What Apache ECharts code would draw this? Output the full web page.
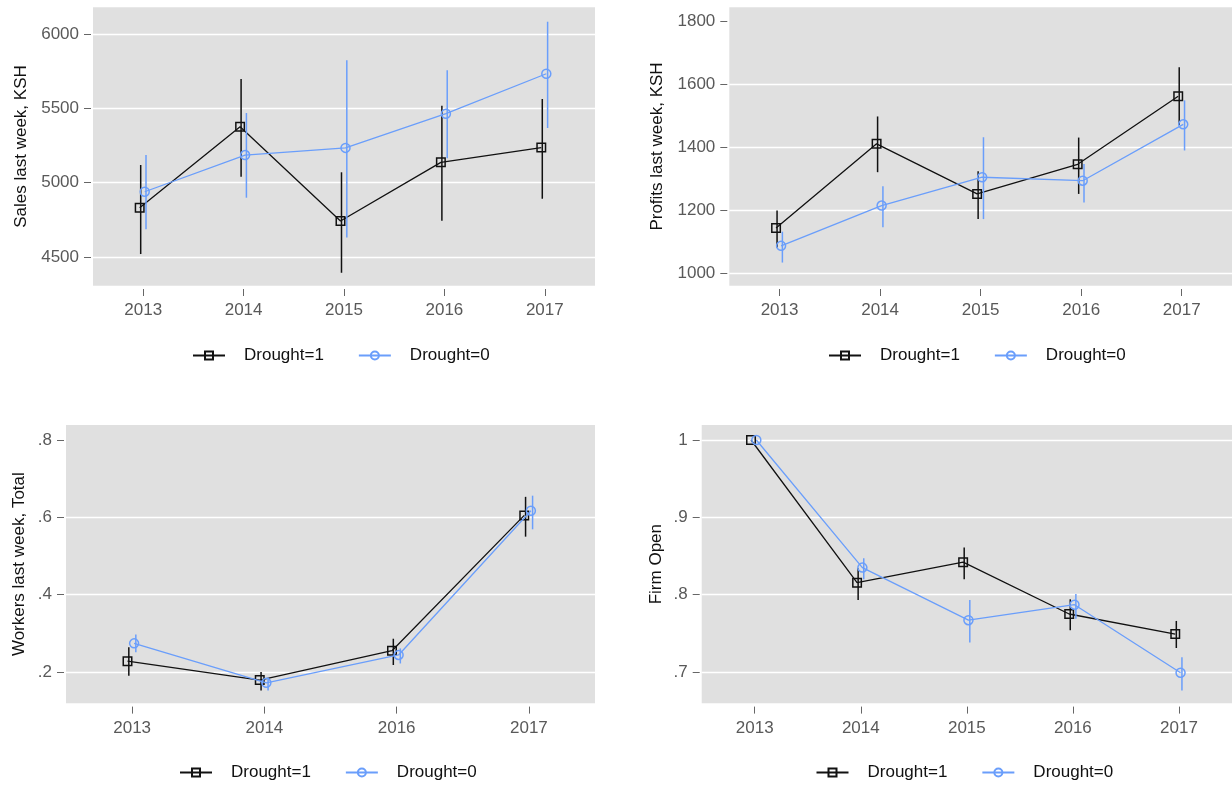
<!DOCTYPE html>
<html>
<head>
<meta charset="utf-8">
<script src="https://cdn.jsdelivr.net/npm/echarts@6/dist/echarts.min.js"></script>
<style>
html,body{margin:0;padding:0;background:#fff;}
#chart{width:1232px;height:789px;}
</style>
</head>
<body>
<div id="chart"></div>
<script>
// ---------------- data ----------------
const years5 = ['2013', '2014', '2015', '2016', '2017'];
const years4 = ['2013', '2014', '2016', '2017'];
const seriesNames = ['Drought=1', 'Drought=0'];

const salesD1   = [4832, 5377, 4742, 5137, 5236];
const salesD1Lo = [4520, 5040, 4394, 4744, 4892];
const salesD1Hi = [5119, 5698, 5070, 5518, 5563];
const salesD0   = [4939, 5186, 5234, 5464, 5733];
const salesD0Lo = [4686, 4899, 4632, 5164, 5368];
const salesD0Hi = [5186, 5469, 5823, 5756, 6083];
const salesTicks = [4500, 5000, 5500, 6000];

const profD1   = [1145, 1412, 1253, 1347, 1563];
const profD1Lo = [1083, 1322, 1173, 1253, 1472];
const profD1Hi = [1200, 1499, 1325, 1432, 1655];
const profD0   = [1088, 1216, 1306, 1295, 1474];
const profD0Lo = [1035, 1147, 1173, 1226, 1391];
const profD0Hi = [1133, 1277, 1433, 1348, 1550];
const profTicks = [1000, 1200, 1400, 1600, 1800];

const workD1   = [0.228, 0.179, 0.255, 0.605];
const workD1Lo = [0.190, 0.152, 0.218, 0.550];
const workD1Hi = [0.264, 0.200, 0.286, 0.653];
const workD0   = [0.274, 0.172, 0.244, 0.617];
const workD0Lo = [0.251, 0.152, 0.222, 0.569];
const workD0Hi = [0.297, 0.186, 0.261, 0.656];
const workTicks = [0.2, 0.4, 0.6, 0.8];

const openD1   = [1.000, 0.8155, 0.842, 0.775, 0.749];
const openD1Lo = [null, 0.793, 0.820, 0.754, 0.731];
const openD1Hi = [null, 0.834, 0.861, 0.794, 0.766];
const openD0   = [1.000, 0.835, 0.767, 0.787, 0.699];
const openD0Lo = [null, 0.820, 0.738, 0.769, 0.676];
const openD0Hi = [null, 0.847, 0.793, 0.801, 0.719];
const openTicks = [0.7, 0.8, 0.9, 1.0];

// ---------------- style ----------------
const FONT = '"Liberation Sans", Arial, Helvetica, sans-serif';
const BLACK = '#111111';
const BLUE = '#6A9EFB';
const BG = '#E0E0E0';
const OFF_M1 = -0.035, OFF_B1 = -0.025, OFF_M0 = 0.015, OFF_B0 = 0.028;

const panels = [
  {grid:{left:93, top:7.3, width:502, height:278.4}, cats:years5, ymin:4307, ymax:6180, ticks:salesTicks,
   hideTop:false, name:'Sales last week, KSH', nameGap:61, fmt:v=>String(v),
   d1:salesD1, d1lo:salesD1Lo, d1hi:salesD1Hi, d0:salesD0, d0lo:salesD0Lo, d0hi:salesD0Hi,
   legend:{left:192, top:347}},
  {grid:{left:729.3, top:7.3, width:503, height:278.4}, cats:years5, ymin:961.5, ymax:1845.7, ticks:profTicks,
   hideTop:true, name:'Profits last week, KSH', nameGap:61, fmt:v=>String(v),
   d1:profD1, d1lo:profD1Lo, d1hi:profD1Hi, d0:profD0, d0lo:profD0Lo, d0hi:profD0Hi,
   legend:{left:828, top:347}},
  {grid:{left:66, top:425, width:529, height:278.3}, cats:years4, ymin:0.119, ymax:0.8388, ticks:workTicks,
   hideTop:true, name:'Workers last week, Total', nameGap:36, fmt:v=>String(+v.toFixed(1)).replace(/^0\./,'.'),
   d1:workD1, d1lo:workD1Lo, d1hi:workD1Hi, d0:workD0, d0lo:workD0Lo, d0hi:workD0Hi,
   legend:{left:179, top:764}},
  {grid:{left:701.7, top:425, width:531, height:278.3}, cats:years5, ymin:0.6595, ymax:1.0194, ticks:openTicks,
   hideTop:false, name:'Firm Open', nameGap:34.5, fmt:v=>String(+v.toFixed(1)).replace(/^0\./,'.'),
   d1:openD1, d1lo:openD1Lo, d1hi:openD1Hi, d0:openD0, d0lo:openD0Lo, d0hi:openD0Hi,
   legend:{left:815.5, top:764}}
];

function barRenderer(color) {
  return function (params, api) {
    const a = api.coord([api.value(0), api.value(1)]);
    const b = api.coord([api.value(0), api.value(2)]);
    return {type:'line', shape:{x1:a[0], y1:a[1], x2:b[0], y2:b[1]},
            style:{stroke:color, lineWidth:1.5}};
  };
}

const option = {animation:false, backgroundColor:'#fff', textStyle:{fontFamily:FONT},
  grid:[], xAxis:[], yAxis:[], series:[], legend:[]};

panels.forEach((p, gi) => {
  option.grid.push(Object.assign({show:true, backgroundColor:BG, borderWidth:0, containLabel:false}, p.grid));
  const idx = p.cats.map((c, i) => i);
  option.xAxis.push({type:'value', gridIndex:gi, min:-0.5, max:p.cats.length - 0.5, offset:3.3,
    axisLine:{show:false, onZero:false},
    axisTick:{show:true, length:7, customValues:idx, lineStyle:{color:'#666', width:1}},
    axisLabel:{customValues:idx, margin:13, fontSize:17, color:'#595959', fontFamily:FONT,
      formatter:v => p.cats[Math.round(v)]},
    splitLine:{show:false}});
  const lineColors = p.ticks.map((t, i) => (p.hideTop && i === p.ticks.length - 1) ? 'rgba(0,0,0,0)' : '#ffffff');
  option.yAxis.push({type:'value', gridIndex:gi, min:p.ymin, max:p.ymax, offset:2,
    name:p.name, nameLocation:'middle', nameGap:p.nameGap,
    nameTextStyle:{fontSize:17, color:BLACK, fontFamily:FONT},
    axisLine:{show:false, onZero:false},
    axisTick:{show:true, length:7, customValues:p.ticks, lineStyle:{color:'#666', width:1}},
    axisLabel:{customValues:p.ticks, margin:12, fontSize:17, color:'#595959', fontFamily:FONT, formatter:p.fmt},
    splitLine:{show:true, lineStyle:{color:lineColors, width:1.3}}});

  const mk = (vals, off) => vals.map((v, i) => [i + off, v]);
  const mkBar = (lo, hi, off) => lo.map((l, i) => [i + off, l, hi[i]]).filter(d => d[1] !== null);

  option.series.push({name:seriesNames[0], type:'line', xAxisIndex:gi, yAxisIndex:gi,
    data:mk(p.d1, OFF_M1), symbol:'rect', symbolSize:8.5, z:3,
    itemStyle:{color:'rgba(0,0,0,0)', borderColor:BLACK, borderWidth:1.5},
    lineStyle:{color:BLACK, width:1.3}});
  option.series.push({name:'ci1_' + gi, type:'custom', xAxisIndex:gi, yAxisIndex:gi, z:3,
    data:mkBar(p.d1lo, p.d1hi, OFF_B1), encode:{x:0, y:[1, 2]}, renderItem:barRenderer(BLACK)});
  option.series.push({name:seriesNames[1], type:'line', xAxisIndex:gi, yAxisIndex:gi,
    data:mk(p.d0, OFF_M0), symbol:'circle', symbolSize:9, z:4,
    itemStyle:{color:'rgba(0,0,0,0)', borderColor:BLUE, borderWidth:1.5},
    lineStyle:{color:BLUE, width:1.3}});
  option.series.push({name:'ci0_' + gi, type:'custom', xAxisIndex:gi, yAxisIndex:gi, z:4,
    data:mkBar(p.d0lo, p.d0hi, OFF_B0), encode:{x:0, y:[1, 2]}, renderItem:barRenderer(BLUE)});

  option.legend.push({data:seriesNames, left:p.legend.left, top:p.legend.top, orient:'horizontal',
    padding:0, itemGap:34, itemWidth:32, itemHeight:10, selectedMode:false,
    textStyle:{fontSize:17, color:BLACK, fontFamily:FONT, padding:[0, 0, 0, 14]}});
});

const chart = echarts.init(document.getElementById('chart'), null, {renderer:'canvas'});
chart.setOption(option);
</script>
</body>
</html>
